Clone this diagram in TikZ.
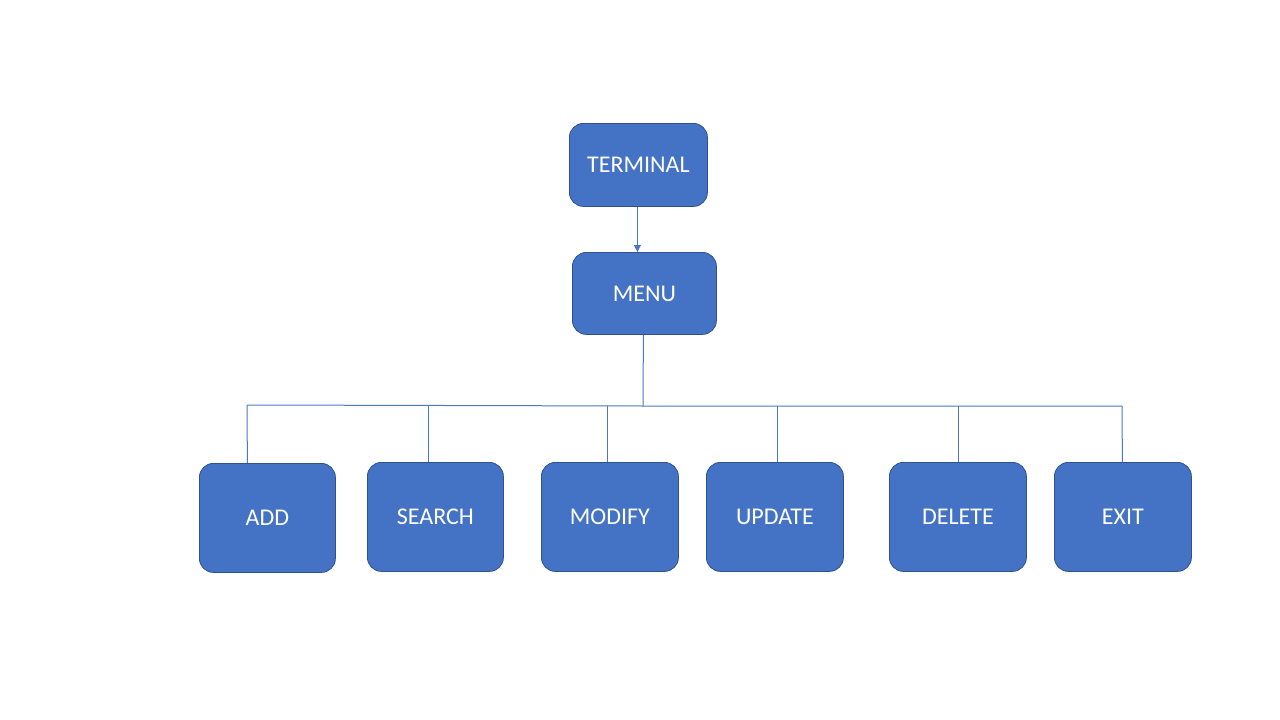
\documentclass[tikz,border=0pt]{standalone}
\usepackage{fontspec}
\setmainfont{Carlito}
\usetikzlibrary{arrows.meta}
\definecolor{boxfill}{HTML}{4472C4}
\definecolor{boxedge}{HTML}{2F528F}
\definecolor{linkc}{HTML}{4A78C2}
\begin{document}
\begin{tikzpicture}[x=1pt,y=-1pt,
  box/.style={draw=boxedge,line width=0.8pt,fill=boxfill,rounded corners=14pt,
    text=white,font=\fontsize{24}{28}\selectfont,inner sep=0pt,anchor=north west},
  link/.style={draw=linkc,line width=1pt}]
\useasboundingbox (0,0) rectangle (1280,720);
\fill[white] (0,0) rectangle (1280,720);
\node[box,minimum width=138pt,minimum height=83pt] (term) at (569,123) {TERMINAL};
\node[box,minimum width=144pt,minimum height=82pt] (menu) at (572,252) {MENU};
\node[box,minimum width=136pt,minimum height=109pt] (add) at (199,463) {ADD};
\node[box,minimum width=136pt,minimum height=109pt] (search) at (367,462) {SEARCH};
\node[box,minimum width=137pt,minimum height=109pt] (modify) at (541,462) {MODIFY};
\node[box,minimum width=137pt,minimum height=109pt] (update) at (706,462) {UPDATE};
\node[box,minimum width=137pt,minimum height=109pt] (delete) at (889,462) {DELETE};
\node[box,minimum width=137pt,minimum height=109pt] (exit) at (1054,462) {EXIT};
\coordinate (hub) at (643,406);
\coordinate (left) at (247,405);
\coordinate (right) at (1122,406);
\draw[link,-{Triangle[length=7pt,width=7pt]}] ([xshift=-1pt]term.south) -- ([xshift=-7pt]menu.north);
\draw[link] ([xshift=-1pt]menu.south) -- (hub);
\draw[link] (left) -- (hub) -- (right);
\draw[link] (left) -- ([xshift=-20pt]add.north);
\draw[link] ([xshift=-7pt]search.north |- hub) -- ([xshift=-7pt]search.north);
\draw[link] ([xshift=-2.5pt]modify.north |- hub) -- ([xshift=-2.5pt]modify.north);
\draw[link] ([xshift=2.5pt]update.north |- hub) -- ([xshift=2.5pt]update.north);
\draw[link] ([xshift=0.5pt]delete.north |- hub) -- ([xshift=0.5pt]delete.north);
\draw[link] (right) -- ([xshift=-0.5pt]exit.north);
\end{tikzpicture}
\end{document}
